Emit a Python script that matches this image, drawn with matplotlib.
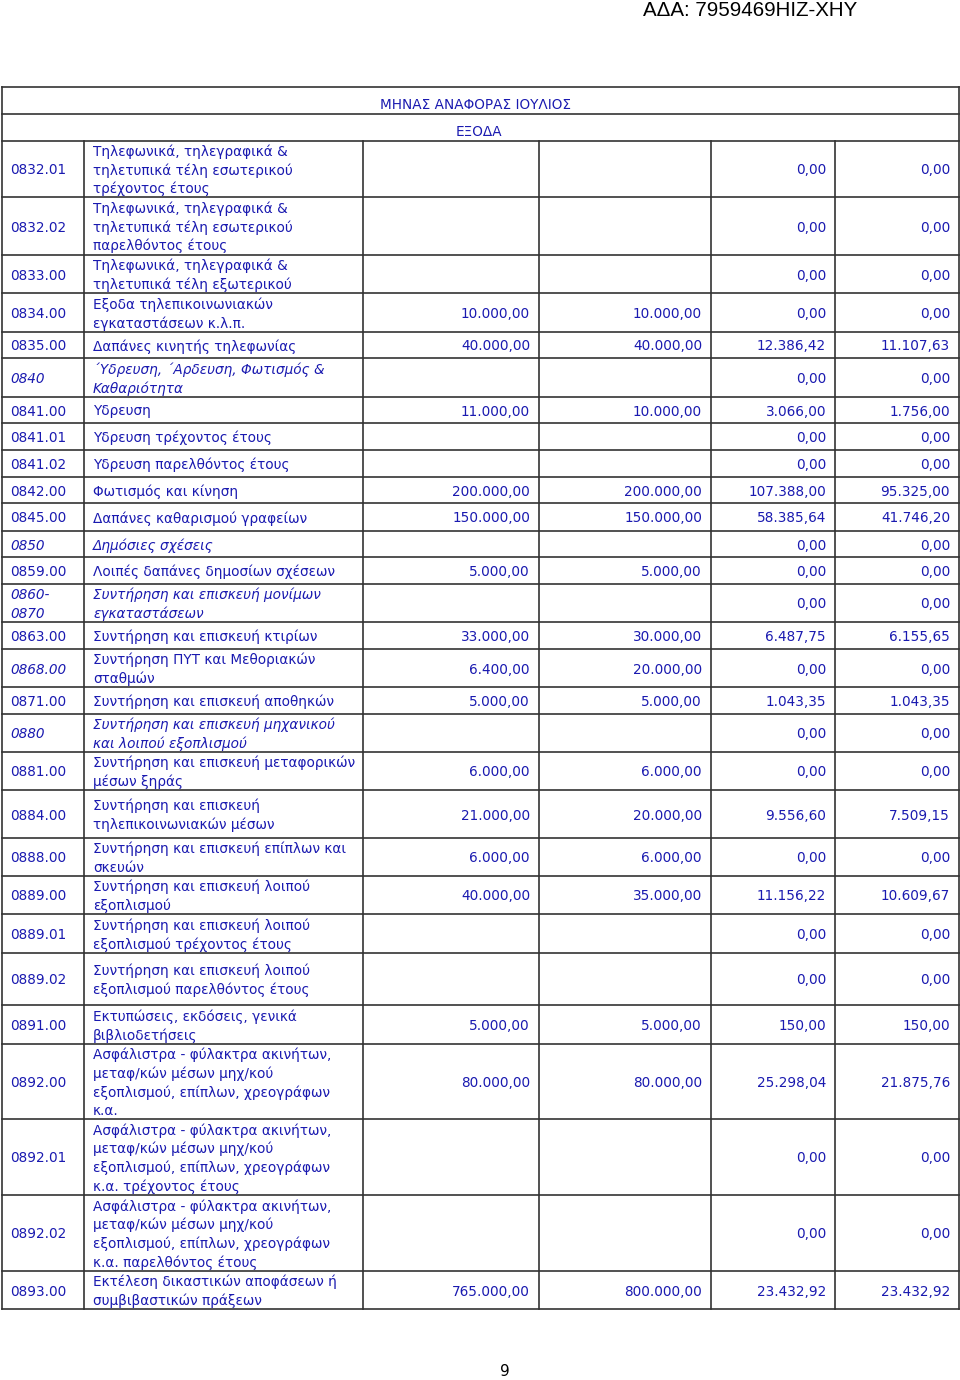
# -*- coding: utf-8 -*-

import matplotlib;
matplotlib.use("Agg");
from matplotlib import pyplot as plt;

# ---- table data ----
codes=["0832.01","0832.02","0833.00","0834.00","0835.00","0840","0841.00","0841.01",
       "0841.02","0842.00","0845.00","0850","0859.00","0860-\n0870","0863.00","0868.00",
       "0871.00","0880","0881.00","0884.00","0888.00","0889.00","0889.01","0889.02",
       "0891.00","0892.00","0892.01","0892.02","0893.00"];

asf="Ασφάλιστρα - φύλακτρα ακινήτων,\nμεταφ/κών μέσων μηχ/κού\nεξοπλισμού, επίπλων, χρεογράφων\nκ.α.";
descriptions=["Τηλεφωνικά, τηλεγραφικά &\nτηλετυπικά τέλη εσωτερικού\nτρέχοντος έτους",
              "Τηλεφωνικά, τηλεγραφικά &\nτηλετυπικά τέλη εσωτερικού\nπαρελθόντος έτους",
              "Τηλεφωνικά, τηλεγραφικά &\nτηλετυπικά τέλη εξωτερικού",
              "Εξοδα τηλεπικοινωνιακών\nεγκαταστάσεων κ.λ.π.",
              "Δαπάνες κινητής τηλεφωνίας",
              "΄Υδρευση, ΄Αρδευση, Φωτισμός &\nΚαθαριότητα",
              "Υδρευση",
              "Υδρευση τρέχοντος έτους",
              "Υδρευση παρελθόντος έτους",
              "Φωτισμός και κίνηση",
              "Δαπάνες καθαρισμού γραφείων",
              "Δημόσιες σχέσεις",
              "Λοιπές δαπάνες δημοσίων σχέσεων",
              "Συντήρηση και επισκευή μονίμων\nεγκαταστάσεων",
              "Συντήρηση και επισκευή κτιρίων",
              "Συντήρηση ΠΥΤ και Μεθοριακών\nσταθμών",
              "Συντήρηση και επισκευή αποθηκών",
              "Συντήρηση και επισκευή μηχανικού\nκαι λοιπού εξοπλισμού",
              "Συντήρηση και επισκευή μεταφορικών\nμέσων ξηράς",
              "Συντήρηση και επισκευή\nτηλεπικοινωνιακών μέσων",
              "Συντήρηση και επισκευή επίπλων και\nσκευών",
              "Συντήρηση και επισκευή λοιπού\nεξοπλισμού",
              "Συντήρηση και επισκευή λοιπού\nεξοπλισμού τρέχοντος έτους",
              "Συντήρηση και επισκευή λοιπού\nεξοπλισμού παρελθόντος έτους",
              "Εκτυπώσεις, εκδόσεις, γενικά\nβιβλιοδετήσεις",
              asf,
              asf+" τρέχοντος έτους",
              asf+" παρελθόντος έτους",
              "Εκτέλεση δικαστικών αποφάσεων ή\nσυμβιβαστικών πράξεων"];

budget=[None,None,None,10000,40000,None,11000,None,None,200000,150000,None,5000,None,
        33000,6400,5000,None,6000,21000,6000,40000,None,None,5000,80000,None,None,765000];
revised=[None,None,None,10000,40000,None,10000,None,None,200000,150000,None,5000,None,
         30000,20000,5000,None,6000,20000,6000,35000,None,None,5000,80000,None,None,800000];
committed=[0,0,0,0,12386.42,0,3066.00,0,0,107388.00,58385.64,0,0,0,6487.75,0,1043.35,0,0,
           9556.60,0,11156.22,0,0,150.00,25298.04,0,0,23432.92];
paid=[0,0,0,0,11107.63,0,1756.00,0,0,95325.00,41746.20,0,0,0,6155.65,0,1043.35,0,0,
      7509.15,0,10609.67,0,0,150.00,21875.76,0,0,23432.92];

italic_code=["0840","0850","0860-\n0870","0868.00","0880"];
italic_desc=["0840","0850","0860-\n0870","0880"];

# ---- layout (pixels) ----
row_h=[56,58,38,39,26,39,26,27,27,26,28,26,27,38,27,38,27,38,38,48,38,38,39,52,39,75,76,76,38];
col_x=[2,84,363,539,711,835,959];
top=87; head1=114; head2=141;
blue="#1a1ab0";
grid="#333333";
fs=9.8;
line_gap=18.7;

def fmtNum(v):
    if v is None:
        return "";
    s="{:,.2f}".format(v);
    return s.replace(",","X").replace(".",",").replace("X",".");

def drawCell(ax,x,yc,text,ha,italic):
    lines=text.split("\n");
    n=len(lines);
    for i,ln in enumerate(lines):
        y=yc+(i-(n-1)/2.0)*line_gap;
        ax.text(x,y,ln,ha=ha,va="center_baseline",fontsize=fs,color=blue,
                style="italic" if italic else "normal",family="DejaVu Sans");

fig=plt.figure(figsize=(9.6,13.8),dpi=100);
ax=fig.add_axes([0,0,1,1]);
ax.set_xlim(0,960);
ax.set_ylim(1380,0);
ax.axis("off");

# page header / footer
ax.text(857,10.5,"ΑΔΑ: 7959469ΗΙΖ-ΧΗΥ",ha="right",va="center",fontsize=14.8,
        family="Liberation Sans",color="black");
ax.text(505,1372,"9",ha="center",va="center",fontsize=11,family="DejaVu Sans",color="black");

# header rows
for y in [top,head1,head2]:
    ax.plot([col_x[0],col_x[-1]],[y,y],color=grid,lw=1.2);
ax.text(380,(top+head1)/2.0+3,"ΜΗΝΑΣ ΑΝΑΦΟΡΑΣ ΙΟΥΛΙΟΣ",ha="left",va="center_baseline",
        fontsize=fs,color=blue,family="DejaVu Sans");
ax.text(456,(head1+head2)/2.0+3,"ΕΞΟΔΑ",ha="left",va="center_baseline",
        fontsize=fs,color=blue,family="DejaVu Sans");

# data rows
y0=head2;
for i in range(len(codes)):
    y1=y0+row_h[i];
    yc=(y0+y1)/2.0;
    drawCell(ax,col_x[0]+8,yc,codes[i],"left",codes[i] in italic_code);
    drawCell(ax,col_x[1]+9,yc,descriptions[i],"left",codes[i] in italic_desc);
    nums=[budget[i],revised[i],committed[i],paid[i]];
    for j in range(4):
        drawCell(ax,col_x[j+3]-9,yc,fmtNum(nums[j]),"right",False);
    ax.plot([col_x[0],col_x[-1]],[y1,y1],color=grid,lw=1.2);
    y0=y1;

# vertical lines
for k,x in enumerate(col_x):
    if k==0 or k==len(col_x)-1:
        ax.plot([x,x],[top,y0],color=grid,lw=1.2);
    else:
        ax.plot([x,x],[head2,y0],color=grid,lw=1.2);

fig.savefig("out.png",dpi=100);
